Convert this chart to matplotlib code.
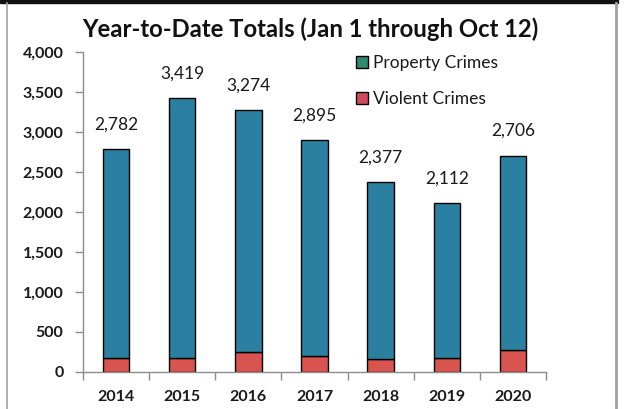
import matplotlib.pyplot as plt
import matplotlib.patches as mpatches
from matplotlib.lines import Line2D
import numpy as np

plt.rcParams['font.family'] = ['Lato', 'DejaVu Sans']

years = ["2014", "2015", "2016", "2017", "2018", "2019", "2020"]
totals = [2782, 3419, 3274, 2895, 2377, 2112, 2706]
violent = [175, 175, 245, 205, 162, 175, 275]
property_crimes = [t - v for t, v in zip(totals, violent)]

bar_blue = "#2b7fa0"
bar_red = "#d9534f"
leg_green = "#2f8a6e"
leg_red = "#d04a5c"
axis_grey = "#8c8c8c"

fig = plt.figure(figsize=(6.25, 4.09), dpi=100)
ax = fig.add_axes([0.1328, 0.0905, 0.8736 - 0.1328, 0.8729 - 0.0905])

x = np.arange(len(years))
ax.bar(x, violent, width=0.4, color=bar_red, edgecolor="black", linewidth=1)
ax.bar(x, property_crimes, width=0.4, bottom=violent, color=bar_blue,
       edgecolor="black", linewidth=1)

for xi, t in zip(x, totals):
    ax.annotate(f"{t:,}", (xi, t), xytext=(0, 12), textcoords="offset points",
                ha="center", va="bottom", fontsize=12.5, color="#1a1a1a")

ax.set_xlim(-0.5, len(years) - 0.5)
ax.set_ylim(0, 4000)
ax.set_yticks(range(0, 4001, 500))
ax.set_yticklabels([f"{v:,}" for v in range(0, 4001, 500)],
                   fontsize=11.5, fontweight="bold", color="#1a1a1a")

# category labels centred, ticks at the category boundaries
ax.set_xticks(np.arange(-0.5, len(years), 1.0))
ax.set_xticklabels([])
ax.set_xticks(x, minor=True)
ax.set_xticklabels(years, minor=True, fontsize=11.5, fontweight="bold", color="#1a1a1a")
ax.tick_params(axis="x", which="minor", length=0, pad=13)
ax.tick_params(axis="x", which="major", length=6, color=axis_grey, width=1)
ax.tick_params(axis="y", length=6, color=axis_grey, width=1, pad=8)

for side in ["top", "right"]:
    ax.spines[side].set_visible(False)
for side in ["left", "bottom"]:
    ax.spines[side].set_color(axis_grey)
    ax.spines[side].set_linewidth(1)

ax.set_title("Year-to-Date Totals (Jan 1 through Oct 12)", fontsize=17.2,
             fontweight="bold", color="#111111", pad=11, x=0.49)

handles = [mpatches.Patch(facecolor=leg_green, edgecolor="black", linewidth=1),
           mpatches.Patch(facecolor=leg_red, edgecolor="black", linewidth=1)]
ax.legend(handles, ["Property Crimes", "Violent Crimes"], loc="upper left",
          bbox_to_anchor=(0.555, 1.04), frameon=False, fontsize=12.5,
          handlelength=0.7, handleheight=0.7, handletextpad=0.3,
          labelspacing=1.15, labelcolor="#1a1a1a")

# outer frame around the chart
W, H = 625, 409
fig.add_artist(mpatches.Rectangle((0, 1 - 3 / H), 618 / W, 3 / H,
                                  transform=fig.transFigure, color="#111111"))
fig.add_artist(Line2D([7 / W, 7 / W], [0, 1 - 3 / H], transform=fig.transFigure,
                      color="#a0a0a0", linewidth=1.2))
fig.add_artist(Line2D([616 / W, 616 / W], [0, 1 - 3 / H], transform=fig.transFigure,
                      color="#a0a0a0", linewidth=2))

fig.savefig("out.png", dpi=100, facecolor="white")
